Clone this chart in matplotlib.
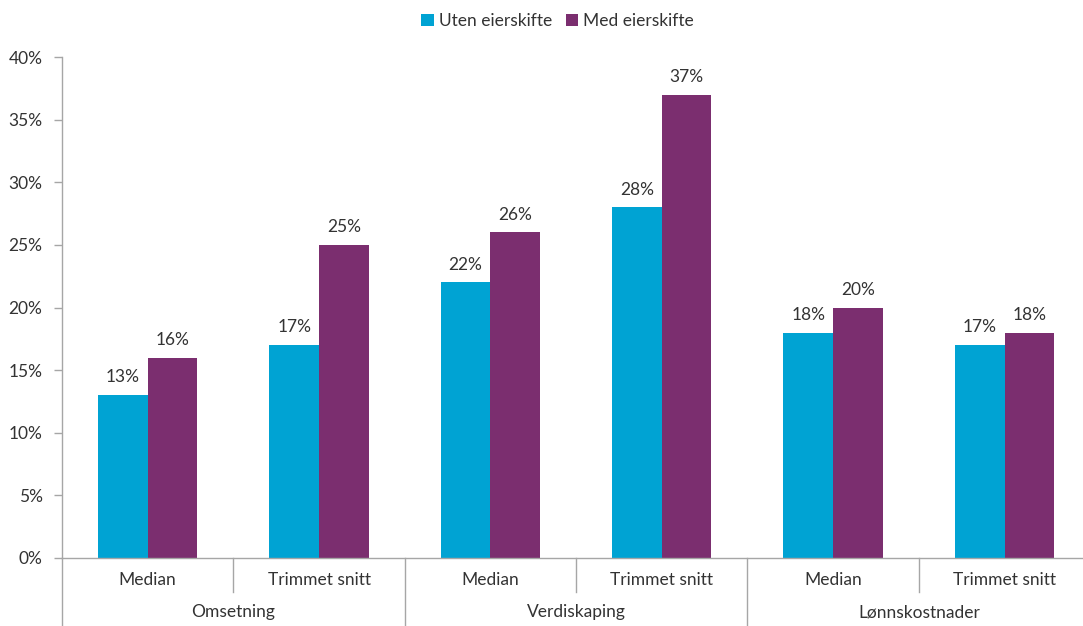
import numpy as np
import matplotlib
matplotlib.use("Agg")
import matplotlib.pyplot as plt
from matplotlib.ticker import MultipleLocator, FuncFormatter
from matplotlib.patches import Patch

plt.rcParams["font.family"] = ["Lato", "DejaVu Sans"]

# ----------------------------- data -----------------------------------------
groups = ["Omsetning", "Verdiskaping", "Lønnskostnader"]
subcats = ["Median", "Trimmet snitt"]
series_names = ["Uten eierskifte", "Med eierskifte"]
uten = [13, 17, 22, 28, 18, 17]
med = [16, 25, 26, 37, 20, 18]

colors = ["#00A3D3", "#7B2E6F"]
text_col = "#333333"
line_col = "#A6A6A6"
fs = 12.5

fig = plt.figure(figsize=(10.83, 6.26), dpi=100)
ax = fig.add_axes([62 / 1083, 1 - 558 / 626, 1 - 62 / 1083, (558 - 57) / 626])

x = np.arange(len(uten))
w = 0.29
b1 = ax.bar(x - w / 2, uten, w, color=colors[0])
b2 = ax.bar(x + w / 2, med, w, color=colors[1])

# value labels above each bar
for bars, vals in ((b1, uten), (b2, med)):
    for r, v in zip(bars, vals):
        ax.annotate(f"{v}%", (r.get_x() + r.get_width() / 2, v),
                    xytext=(0, 7), textcoords="offset points",
                    ha="center", va="bottom", fontsize=fs, color=text_col)

ax.set_ylim(0, 40)
ax.set_xlim(-0.5, 5.458)
ax.yaxis.set_major_locator(MultipleLocator(5))
ax.yaxis.set_major_formatter(FuncFormatter(lambda v, _: f"{v:.0f}%"))
ax.tick_params(axis="y", length=6, width=1, color=line_col, labelsize=fs,
               labelcolor=text_col, pad=8)
ax.set_xticks([])

for side in ("top", "right"):
    ax.spines[side].set_visible(False)
for side in ("left", "bottom"):
    ax.spines[side].set_color(line_col)
    ax.spines[side].set_linewidth(1)

# two-level category axis
trans = ax.get_xaxis_transform()
sub_depth = -34 / 501
grp_depth = -68 / 501
for i in range(len(uten)):
    ax.text(i, -22 / 501, subcats[i % 2], transform=trans, ha="center",
            va="center", fontsize=fs, color=text_col)
for g, name in enumerate(groups):
    ax.text(2 * g + 0.5, -54 / 501, name, transform=trans, ha="center",
            va="center", fontsize=fs, color=text_col)
for i in range(len(uten)):
    xb = i - 0.5
    depth = grp_depth if i % 2 == 0 else sub_depth
    ax.plot([xb, xb], [0, depth], transform=trans, color=line_col, lw=1,
            clip_on=False)

handles = [Patch(facecolor=c, edgecolor="none") for c in colors]
fig.legend(handles, series_names, loc="center", bbox_to_anchor=(0.515, 1 - 21 / 626),
           ncol=2, frameon=False, fontsize=fs, handlelength=0.7, handleheight=0.7,
           handletextpad=0.3, columnspacing=0.8, labelcolor=text_col)

fig.savefig("out.png", dpi=100)
